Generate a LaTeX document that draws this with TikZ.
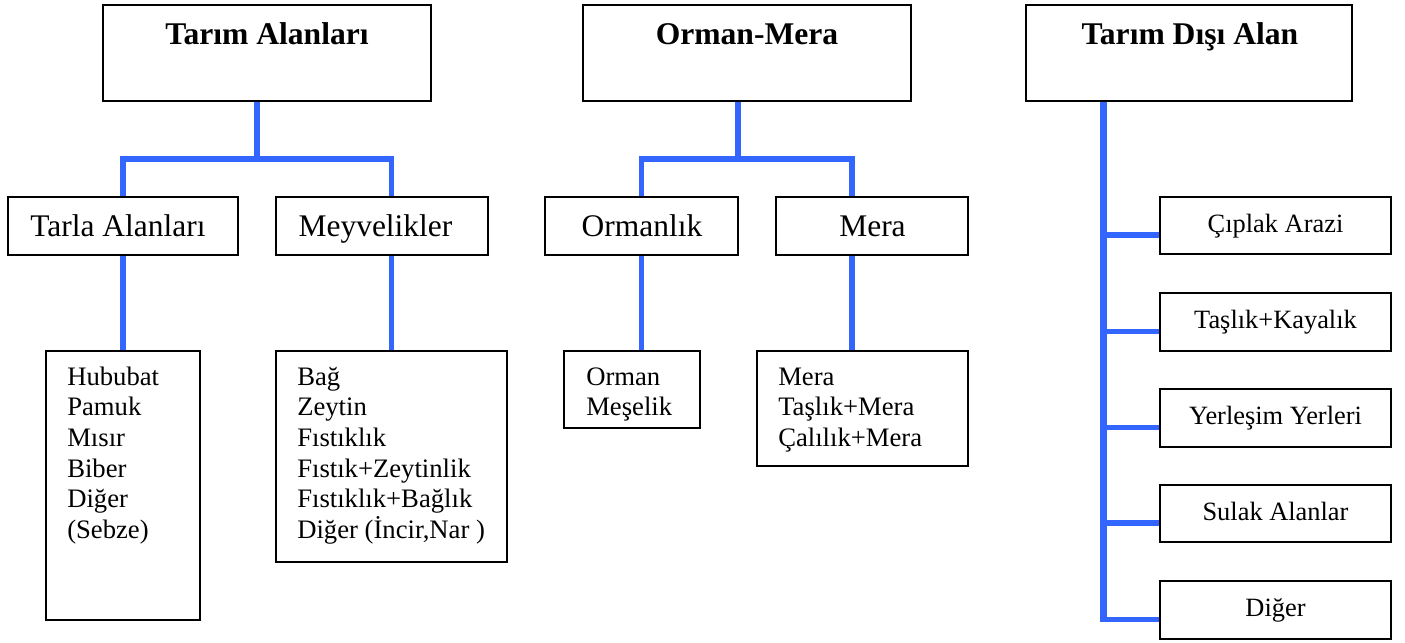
\documentclass[tikz,border=0pt]{standalone}
\usepackage{fontspec}
\setmainfont{Liberation Serif}
\usetikzlibrary{calc}
\definecolor{lineblue}{RGB}{51,102,255}
\newcommand{\stacklines}[1]{\vtop{\baselineskip=23pt\lineskiplimit=-30pt\lineskip=0pt #1}}
\begin{document}
\begin{tikzpicture}[x=0.75pt, y=-0.75pt,
  box/.style={draw=black, line width=0.9pt, inner sep=0pt, rectangle},
  sz/.style n args={2}{minimum width={#1*0.75pt}, minimum height={#2*0.75pt}},
  conn/.style={draw=lineblue, line width=4pt, line join=miter},
  spine/.style={draw=lineblue, line width=5.25pt},
  titletxt/.style={anchor=base, inner sep=0pt, font=\fontsize{23.7}{28}\selectfont\bfseries},
  midtxt/.style={anchor=base, inner sep=0pt, font=\fontsize{23.6}{28}\selectfont},
  listtxt/.style={anchor=base west, inner sep=0pt, font=\fontsize{20}{23}\selectfont},
  rbox/.style={box, sz={231}{#1}, font=\fontsize{19.8}{24}\selectfont, text height=13.5pt, text depth=3.75pt}
]
\useasboundingbox (0,0) rectangle (1405,642);

% top boxes
\node[box, sz={328}{96}] (ta) at (267,53) {};
\node[titletxt] (tat) at (267,45) {Tarım Alanları};
\node[box, sz={328}{96}] (om) at (747,53) {};
\node[titletxt] (omt) at (747,45) {Orman-Mera};
\node[box, sz={326}{96}] (td) at (1189,53) {};
\node[titletxt] (tdt) at (1190,45) {Tarım Dışı Alan};

% middle boxes
\node[box, sz={230}{58}] (tarla) at (123,226) {};
\node[midtxt] (tarlat) at (118,236) {Tarla Alanları};
\node[box, sz={212}{58}] (meyve) at (382,226) {};
\node[midtxt] (meyvet) at (375.5,236) {Meyvelikler};
\node[box, sz={193}{58}] (orml) at (641.5,226) {};
\node[midtxt] (ormlt) at (642,236) {Ormanlık};
\node[box, sz={192}{58}] (mera) at (872,226) {};
\node[midtxt] (merat) at (872.5,236) {Mera};

% lower boxes
\node[box, sz={154}{269}] (hub) at (123,485.5) {};
\node[listtxt] (hubt) at (67,385) {\stacklines{\hbox{Hububat}\hbox{Pamuk}\hbox{Mısır}\hbox{Biber}\hbox{Diğer}\hbox{(Sebze)}}};
\node[box, sz={231}{211}] (bag) at (391.5,456.5) {};
\node[listtxt] (bagt) at (297,385) {\stacklines{\hbox{Bağ}\hbox{Zeytin}\hbox{Fıstıklık}\hbox{Fıstık+Zeytinlik}\hbox{Fıstıklık+Bağlık}\hbox{Diğer (İncir,Nar )}}};
\node[box, sz={136}{77}] (orman) at (632,389.5) {};
\node[listtxt] (ormant) at (586,385) {\stacklines{\hbox{Orman}\hbox{Meşelik}}};
\node[box, sz={211}{115}] (mera2) at (862.5,408.5) {};
\node[listtxt] (mera2t) at (778,385) {\stacklines{\hbox{Mera}\hbox{Taşlık+Mera}\hbox{Çalılık+Mera}}};

% right column
\node[rbox=57] (c1) at (1275.5,225.5) {Çıplak Arazi};
\node[rbox=58] (c2) at (1275.5,322) {Taşlık+Kayalık};
\node[rbox=58] (c3) at (1275.5,418) {Yerleşim Yerleri};
\node[rbox=57] (c4) at (1275.5,513.5) {Sulak Alanlar};
\node[rbox=58] (c5) at (1275.5,610) {Diğer};

% connectors: Tarım Alanları
\coordinate (j1) at (257,159);
\draw[conn] (ta.south -| j1) -- (j1);
\draw[conn] (tarla.north) |- (j1) -| (bag.north |- meyve.north);
\draw[conn] (tarla.south) -- (hub.north);
\draw[conn] (bag.north |- meyve.south) -- (bag.north);

% connectors: Orman-Mera
\coordinate (j2) at (738,159);
\coordinate (j2r) at (852,159);
\draw[conn] (om.south -| j2) -- (j2);
\draw[conn] (orml.north) |- (j2) -| (j2r |- mera.north);
\draw[conn] (orml.south) -- (orml.south |- orman.north);
\draw[conn] (j2r |- mera.south) -- (j2r |- mera2.north);

% connectors: Tarım Dışı Alan
\coordinate (sp) at (1103,0);
\draw[spine] (td.south -| sp) -- ($(sp |- c5.west)+(0,11.5)$);
\foreach \c in {c1,c2,c3,c4,c5}{
  \draw[conn] ($(sp |- \c.west)+(0,9.5)$) -- ($(\c.west)+(0,9.5)$);
}
\end{tikzpicture}
\end{document}
